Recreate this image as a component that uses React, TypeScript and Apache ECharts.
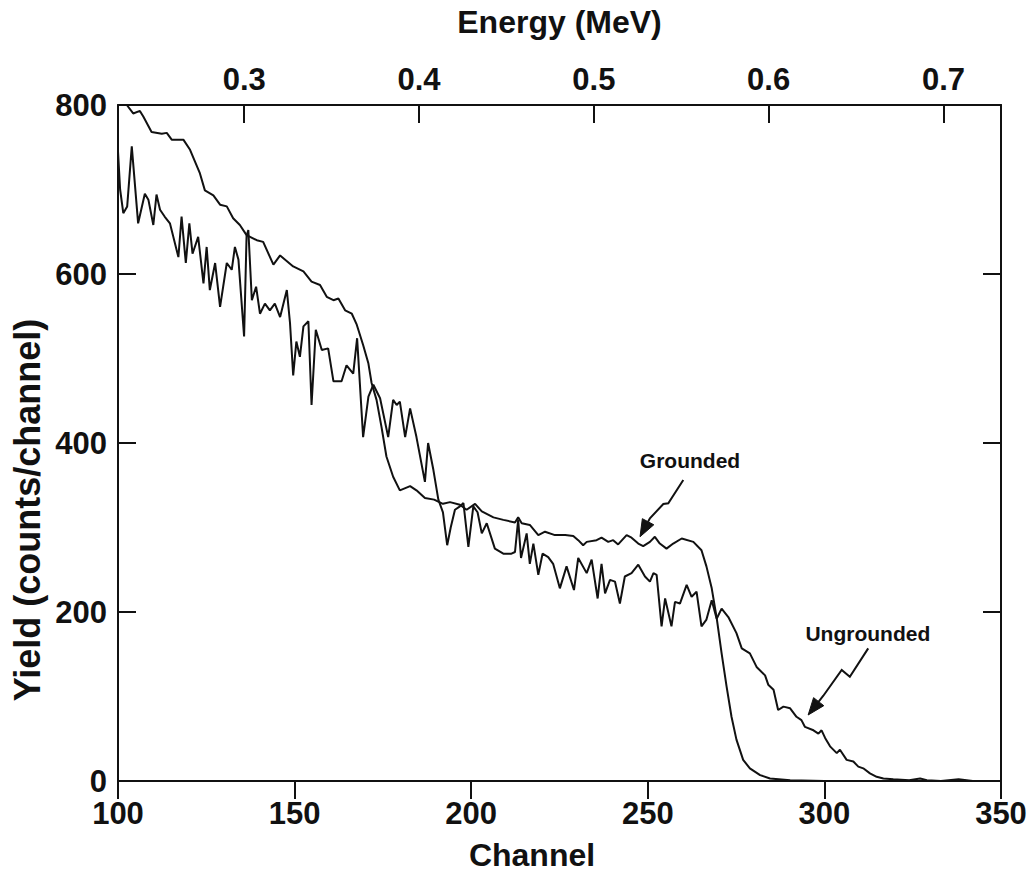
import React, { useEffect, useRef } from "react";
import * as echarts from "echarts";

// Backscattering yield spectra, channel vs. counts per channel
const groundedChannel = [
  102.5, 104.3, 106.2, 107.2, 109.5, 112.4, 113.8, 115.2, 118.5, 120.4, 123.2, 124.6, 127, 128.9, 130.8,
  132.6, 134.5, 136.4, 139.3, 141.1, 144, 145.9, 149.6, 152.5, 154.8, 157.2, 159.1, 161, 162.4, 164.3,
  166.2, 167.6, 169.4, 170.9, 171.8, 173.2, 174.6, 176, 177.9, 179.8, 182.7, 184.5, 186.9, 189.5, 192,
  194, 196.8, 198.7, 201.1, 203, 206.3, 209.1, 212.4, 213.3, 214.3, 216.6, 219, 220.9, 223.7, 226.6,
  228.9, 230.3, 231.7, 232.7, 235.5, 236.9, 238.8, 240.2, 241.6, 244, 245.4, 247.3, 248.7, 250.6, 252,
  253.4, 255.3, 257.2, 259.6, 262.9, 265.2, 266.6, 268.1, 269.5, 270.9, 272.3, 273.7, 275.1, 277, 278.9,
  281.8, 284.6, 290.3, 300, 310, 330, 350,
];
const groundedYield = [
  800, 790, 793, 786, 768, 766, 767, 759, 759, 747, 719, 699, 693, 682, 680,
  666, 658, 646, 640, 638, 611, 622, 609, 603, 591, 587, 573, 569, 571, 557,
  553, 540, 516, 494, 471, 451, 419, 384, 360, 344, 349, 344, 335, 333, 328,
  330, 327, 321, 328, 319, 312, 309, 306, 312, 305, 303, 291, 295, 291, 291,
  290, 285, 279, 283, 285, 288, 283, 285, 280, 291, 288, 281, 278, 283, 289,
  281, 275, 281, 287, 283, 273, 254, 228, 193, 151, 112, 76, 49, 25, 15,
  7, 3, 1, 0, 0, 0, 0,
];

const ungroundedChannel = [
  100, 100.6, 101.5, 102.6, 103.9, 105.7, 107.6, 108.6, 110, 110.9, 111.9, 113.2, 114.7, 117.1, 118,
  119.2, 120.2, 121.1, 122.7, 124.2, 125.1, 126, 127.5, 128.9, 130.8, 132.2, 133.1, 134.1, 135.7, 136.4,
  136.9, 137.9, 139.1, 140.2, 141.6, 143, 144.4, 145.9, 147.8, 148.7, 149.6, 150.5, 151.5, 152.5, 153.9,
  154.8, 156, 157.7, 159.5, 161, 163.3, 164.7, 166.6, 167.7, 169.4, 170.9, 172.3, 174.2, 176.5, 177.9,
  178.9, 179.8, 181.3, 182.7, 184.5, 186.9, 187.8, 189.3, 190.7, 192, 193.2, 194.2, 195.4, 196.8, 197.8,
  199.2, 200.6, 201.8, 203, 204.4, 206.7, 209.1, 211.4, 212.4, 213.3, 214.1, 215.7, 216.6, 217.6, 219,
  220.2, 221.8, 223.2, 225.1, 227, 229.1, 230.3, 232.7, 234.1, 235.8, 236.9, 237.9, 239.3, 240.7, 242.1,
  243.5, 245.4, 247.3, 249.2, 250.6, 251.6, 252.5, 253.9, 254.9, 256.7, 257.7, 259.1, 261, 262.4, 263.8,
  265.2, 266.6, 268.1, 269.5, 270.9, 272.8, 275.1, 276.6, 278.9, 280.8, 283.2, 284.1, 285.6, 286.9, 288.4,
  290.3, 292.1, 293.5, 294.5, 296.9, 298.3, 299.2, 300.2, 301.6, 303.5, 304.4, 306.3, 308.2, 309.6, 311,
  312.9, 314.8, 316.7, 319.5, 324, 327.1, 329, 333, 338, 342, 350,
];
const ungroundedYield = [
  745, 700, 672, 680, 751, 660, 695, 688, 658, 694, 676, 668, 660, 620, 668,
  613, 660, 624, 644, 589, 632, 581, 613, 561, 613, 605, 632, 617, 526, 645,
  652, 569, 585, 553, 565, 557, 565, 549, 581, 542, 480, 520, 502, 538, 544,
  445, 534, 510, 512, 473, 473, 492, 482, 524, 407, 455, 469, 453, 407, 451,
  445, 449, 407, 441, 407, 354, 400, 368, 333, 318, 279, 300, 321, 325, 329,
  277, 325, 318, 293, 305, 275, 269, 269, 271, 309, 264, 293, 257, 281, 244,
  269, 265, 257, 228, 254, 226, 264, 246, 262, 216, 257, 222, 238, 236, 210,
  242, 246, 256, 242, 236, 246, 244, 183, 216, 183, 212, 210, 232, 218, 224,
  183, 191, 214, 192, 204, 194, 175, 157, 151, 135, 125, 114, 108, 84, 88,
  86, 76, 72, 64, 60, 56, 60, 51, 41, 33, 37, 25, 23, 17, 15,
  9, 5, 3, 2, 1, 3, 1, 0, 2, 0, 0,
];

// Channel axis limits and the matching energy calibration for the top axis
const channelRange = [100, 350];
const energyRange = [0.2278, 0.7329];
const energyTicks = [0.3, 0.4, 0.5, 0.6, 0.7];

// Callout labels and arrow paths, in (channel, yield) coordinates
const groundedLabel = { text: "Grounded", at: [261.95, 378.7] };
const groundedArrow = [
  [260.05, 356.2],
  [255.8, 328.6],
  [254.4, 327.8],
  [250.6, 310.9],
  [247.8, 289.1],
];
const ungroundedLabel = { text: "Ungrounded", at: [312.3, 175.1] };
const ungroundedArrow = [
  [312.4, 157.0],
  [307.2, 123.4],
  [304.9, 131.4],
  [299.7, 100.9],
  [295.4, 78.1],
];

const FONT = "'Liberation Sans', Arial, Helvetica, sans-serif";
const INK = "#111";

const zip = (xs: number[], ys: number[]) => xs.map((x, i) => [x, ys[i]]);

export default function App() {
  const ref = useRef<HTMLDivElement>(null);

  useEffect(() => {
    if (!ref.current) return;
    const chart = echarts.init(ref.current, null, { renderer: "svg" });

    const axisLine = { show: true, onZero: false, lineStyle: { color: INK, width: 2 } };
    const tickStyle = { color: INK, width: 2 };
    const labelStyle = { color: INK, fontFamily: FONT, fontWeight: "bold" as const, fontSize: 31 };

    chart.setOption({
      animation: false,
      backgroundColor: "#fff",
      grid: { left: 118, right: 34, top: 105, bottom: 92 },
      xAxis: [
        {
          type: "value",
          position: "bottom",
          min: channelRange[0],
          max: channelRange[1],
          interval: 50,
          axisLine,
          axisTick: { show: true, inside: false, length: 18, lineStyle: tickStyle },
          axisLabel: { ...labelStyle, margin: 17 },
          splitLine: { show: false },
        },
        {
          type: "value",
          position: "top",
          min: energyRange[0],
          max: energyRange[1],
          axisLine,
          axisTick: { show: true, inside: true, length: 18, lineStyle: tickStyle, customValues: energyTicks },
          axisLabel: {
            ...labelStyle,
            margin: 10,
            customValues: energyTicks,
            formatter: (v: number) => v.toFixed(1),
          },
          splitLine: { show: false },
          name: "Energy (MeV)",
          nameLocation: "middle",
          nameGap: 67,
          nameTextStyle: { ...labelStyle, fontSize: 32 },
        },
      ],
      yAxis: [
        {
          type: "value",
          position: "left",
          min: 0,
          max: 800,
          interval: 200,
          axisLine,
          axisTick: { show: true, inside: true, length: 18, lineStyle: tickStyle },
          axisLabel: { ...labelStyle, margin: 11 },
          splitLine: { show: false },
        },
        {
          type: "value",
          position: "right",
          min: 0,
          max: 800,
          interval: 200,
          axisLine,
          axisTick: { show: true, inside: true, length: 18, lineStyle: tickStyle },
          axisLabel: { show: false },
          splitLine: { show: false },
        },
      ],
      series: [
        {
          name: "Grounded",
          type: "line",
          xAxisIndex: 0,
          yAxisIndex: 0,
          data: zip(groundedChannel, groundedYield),
          showSymbol: false,
          symbol: "none",
          clip: true,
          lineStyle: { color: INK, width: 2 },
          z: 3,
        },
        {
          name: "Ungrounded",
          type: "line",
          xAxisIndex: 0,
          yAxisIndex: 0,
          data: zip(ungroundedChannel, ungroundedYield),
          showSymbol: false,
          symbol: "none",
          clip: true,
          lineStyle: { color: INK, width: 2 },
          z: 3,
        },
      ],
    });

    const toPx = (p: number[]) =>
      chart.convertToPixel({ xAxisIndex: 0, yAxisIndex: 0 }, p) as number[];

    // Wavy callout arrow: shaft polyline ending in a filled triangular head
    const arrow = (pts: number[][]) => {
      const px = pts.map(toPx);
      const tip = px[px.length - 1];
      const prev = px[px.length - 2];
      const dx = tip[0] - prev[0];
      const dy = tip[1] - prev[1];
      const len = Math.hypot(dx, dy) || 1;
      const ux = dx / len;
      const uy = dy / len;
      const headLen = 17;
      const halfW = 6.5;
      const base = [tip[0] - ux * headLen, tip[1] - uy * headLen];
      const shaft = [...px.slice(0, -1), base];
      return [
        {
          type: "polyline",
          shape: { points: shaft },
          style: { stroke: INK, lineWidth: 2, fill: "none" },
          z: 10,
        },
        {
          type: "polygon",
          shape: {
            points: [
              tip,
              [base[0] - uy * halfW, base[1] + ux * halfW],
              [base[0] + uy * halfW, base[1] - ux * halfW],
            ],
          },
          style: { fill: INK, stroke: INK, lineWidth: 1 },
          z: 10,
        },
      ];
    };

    const callout = (label: { text: string; at: number[] }) => {
      const [x, y] = toPx(label.at);
      return {
        type: "text",
        x,
        y,
        style: {
          text: label.text,
          fill: INK,
          font: `bold 21px ${FONT}`,
          align: "center",
          verticalAlign: "middle",
        },
        z: 10,
      };
    };

    chart.setOption({
      graphic: [
        ...arrow(groundedArrow),
        ...arrow(ungroundedArrow),
        callout(groundedLabel),
        callout(ungroundedLabel),
        {
          type: "text",
          x: 532,
          y: 855,
          style: {
            text: "Channel",
            fill: INK,
            font: `bold 32px ${FONT}`,
            align: "center",
            verticalAlign: "middle",
          },
        },
        {
          type: "text",
          x: 27,
          y: 510,
          rotation: Math.PI / 2,
          style: {
            text: "Yield (counts/channel)",
            fill: INK,
            font: `bold 36px ${FONT}`,
            align: "center",
            verticalAlign: "middle",
          },
        },
      ],
    });

    return () => chart.dispose();
  }, []);

  return (
    <div
      ref={ref}
      style={{ position: "fixed", left: 0, top: 0, width: 1035, height: 873, background: "#fff" }}
    />
  );
}
